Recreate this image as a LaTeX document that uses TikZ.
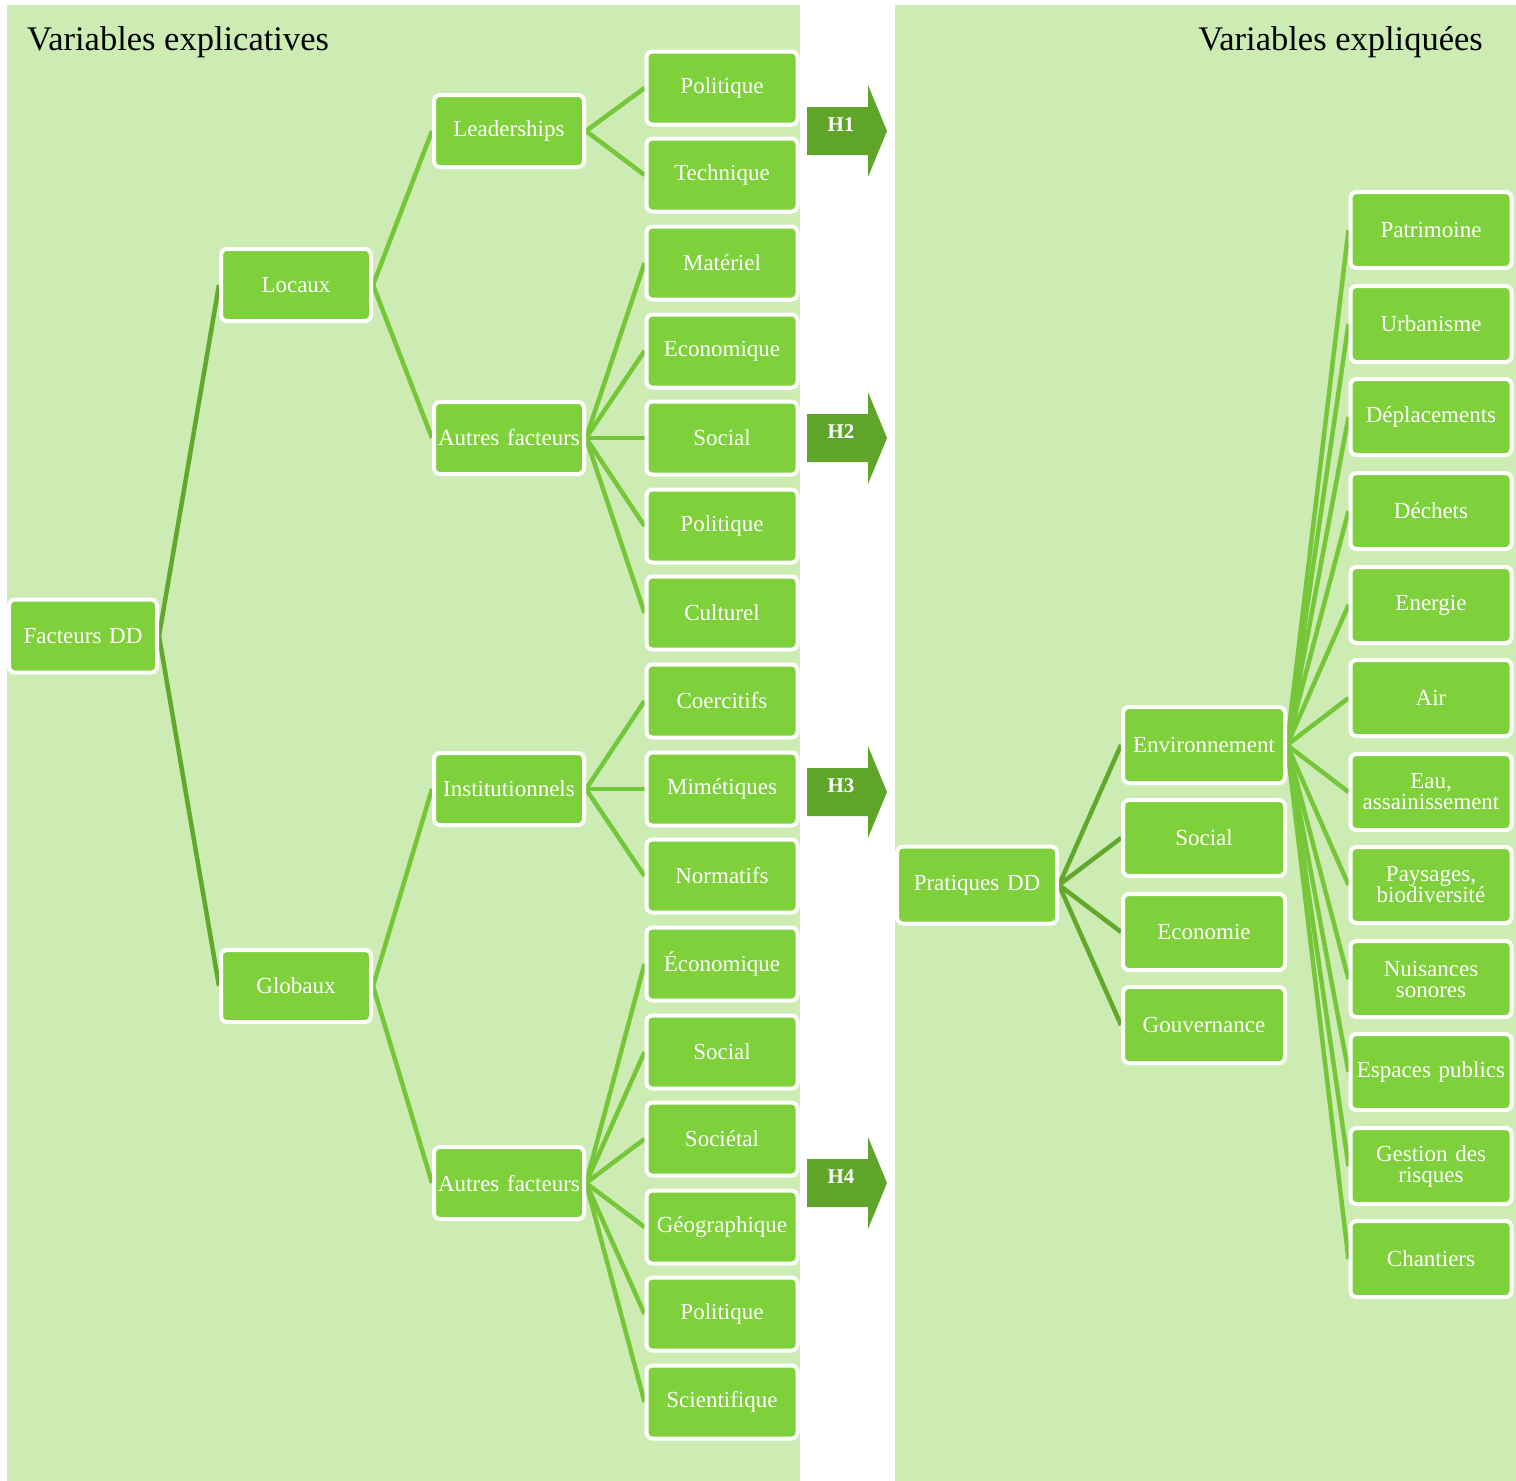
\documentclass[tikz,border=0pt]{standalone}
\usepackage{fontspec}
\setmainfont{Liberation Serif}
\pgfdeclarelayer{panel}
\pgfdeclarelayer{links}
\pgfsetlayers{panel,links,main}

\definecolor{panelgreen}{HTML}{CCECB4}
\definecolor{boxgreen}{HTML}{7FD13B}
\definecolor{darklink}{HTML}{62A82C}
\definecolor{lightlink}{HTML}{76C63A}
\definecolor{arrowgreen}{HTML}{5FA52A}

\tikzset{
  box/.style={draw=white, line width=4pt, fill=boxgreen, rounded corners=6pt,
    text=white, align=center, inner sep=0pt,
    font=\fontsize{23}{21}\selectfont},
  leftleaf/.style={box, minimum width=151pt, minimum height=73pt, text width=151pt},
  leftmid/.style={box, minimum width=150pt, minimum height=72pt, text width=150pt},
  rightleaf/.style={box, minimum width=161pt, minimum height=76pt, text width=161pt},
  rightmid/.style={box, minimum width=162pt, minimum height=76pt, text width=162pt},
  dlink/.style={draw=darklink, line width=4.5pt},
  llink/.style={draw=lightlink, line width=4.5pt},
  title/.style={font=\fontsize{34.5}{34.5}\selectfont, text=black, inner sep=0pt},
  hlabel/.style={font=\fontsize{21}{21}\selectfont\bfseries, text=white, inner sep=0pt}
}

% Hypothesis arrow: #1 name, #2 vertical centre, #3 label
\newcommand\hyparrow[3]{%
  \fill[arrowgreen] (807,#2-24) -- (868,#2-24) -- (868,#2-46) -- (887,#2)
    -- (868,#2+46) -- (868,#2+24) -- (807,#2+24) -- cycle;
  \node[hlabel] (#1) at (841,#2-6) {#3};
}

\begin{document}
\begin{tikzpicture}[x=1pt, y=-1pt]
\useasboundingbox (0,0) rectangle (1516,1481);

\begin{pgfonlayer}{panel}
  \fill[white] (0,0) rectangle (1516,1481);
  \fill[panelgreen] (7,5) rectangle (800,1481);
  \fill[panelgreen] (895,5) rectangle (1516,1481);
\end{pgfonlayer}

\node[title, anchor=base west] (tleft) at (27,50) {Variables explicatives};
\node[title, anchor=base east] (tright) at (1483,50) {Variables expliquées};

% explanatory factors
\node[box, minimum width=148pt, minimum height=73pt, text width=148pt] (fdd) at (83,636) {Facteurs DD};
\node[leftmid] (loc) at (296,285) {Locaux};
\node[leftmid] (glo) at (296,986) {Globaux};
\node[leftmid] (lead) at (509,131) {Leaderships};
\node[leftmid] (af1) at (509,438) {Autres facteurs};
\node[leftmid] (inst) at (509,789) {Institutionnels};
\node[leftmid] (af2) at (509,1183) {Autres facteurs};

\node[leftleaf] (l1) at (722,88) {Politique};
\node[leftleaf] (l2) at (722,175) {Technique};
\node[leftleaf] (l3) at (722,263) {Matériel};
\node[leftleaf] (l4) at (722,351) {Economique};
\node[leftleaf] (l5) at (722,438) {Social};
\node[leftleaf] (l6) at (722,526) {Politique};
\node[leftleaf] (l7) at (722,613) {Culturel};
\node[leftleaf] (l8) at (722,701) {Coercitifs};
\node[leftleaf] (l9) at (722,789) {Mimétiques};
\node[leftleaf] (l10) at (722,876) {Normatifs};
\node[leftleaf] (l11) at (722,964) {Économique};
\node[leftleaf] (l12) at (722,1052) {Social};
\node[leftleaf] (l13) at (722,1139) {Sociétal};
\node[leftleaf] (l14) at (722,1227) {Géographique};
\node[leftleaf] (l15) at (722,1314) {Politique};
\node[leftleaf] (l16) at (722,1402) {Scientifique};

% hypotheses
\hyparrow{h1}{131}{H1}
\hyparrow{h2}{438}{H2}
\hyparrow{h3}{792}{H3}
\hyparrow{h4}{1183}{H4}

% explained practices
\node[box, minimum width=160pt, minimum height=77pt, text width=160pt] (pdd) at (977,885) {Pratiques DD};
\node[rightmid] (env) at (1204,745) {Environnement};
\node[rightmid] (soc) at (1204,838) {Social};
\node[rightmid] (eco) at (1204,932) {Economie};
\node[rightmid] (gouv) at (1204,1025) {Gouvernance};

\node[rightleaf] (r1) at (1431,230) {Patrimoine};
\node[rightleaf] (r2) at (1431,324) {Urbanisme};
\node[rightleaf] (r3) at (1431,417) {Déplacements};
\node[rightleaf] (r4) at (1431,511) {Déchets};
\node[rightleaf] (r5) at (1431,605) {Energie};
\node[rightleaf] (r6) at (1431,698) {Air};
\node[rightleaf] (r7) at (1431,792) {Eau,\\assainissement};
\node[rightleaf] (r8) at (1431,885) {Paysages,\\biodiversité};
\node[rightleaf] (r9) at (1431,979) {Nuisances\\sonores};
\node[rightleaf] (r10) at (1431,1072) {Espaces publics};
\node[rightleaf] (r11) at (1431,1166) {Gestion des\\risques};
\node[rightleaf] (r12) at (1431,1259) {Chantiers};

\begin{pgfonlayer}{links}
  \foreach \c in {loc,glo} \path[dlink] (fdd.east) -- (\c.west);
  \foreach \c in {lead,af1} \path[llink] (loc.east) -- (\c.west);
  \foreach \c in {inst,af2} \path[llink] (glo.east) -- (\c.west);
  \foreach \c in {l1,l2} \path[llink] (lead.east) -- (\c.west);
  \foreach \c in {l3,l4,l5,l6,l7} \path[llink] (af1.east) -- (\c.west);
  \foreach \c in {l8,l9,l10} \path[llink] (inst.east) -- (\c.west);
  \foreach \c in {l11,l12,l13,l14,l15,l16} \path[llink] (af2.east) -- (\c.west);
  \foreach \c in {env,soc,eco,gouv} \path[dlink] (pdd.east) -- (\c.west);
  \foreach \c in {r1,r2,r3,r4,r5,r6,r7,r8,r9,r10,r11,r12} \path[llink] (env.east) -- (\c.west);
\end{pgfonlayer}
\end{tikzpicture}
\end{document}
